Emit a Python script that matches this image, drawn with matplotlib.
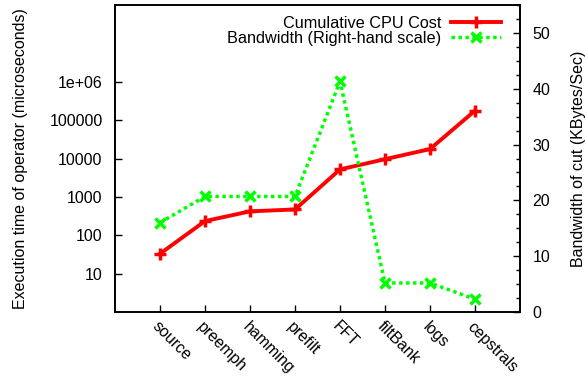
import numpy as np
import matplotlib
matplotlib.use("Agg")
import matplotlib.pyplot as plt
from matplotlib.ticker import FixedLocator, MultipleLocator, NullLocator

plt.rcParams['font.family'] = ['Liberation Sans', 'DejaVu Sans']

# operators along the pipeline
operators = ['source', 'preemph', 'hamming', 'prefilt', 'FFT', 'filtBank', 'logs', 'cepstrals']
# cumulative CPU cost (microseconds, log scale)
cpu_cost = [33, 234, 420, 470, 5200, 9600, 17600, 177000]
# bandwidth of the cut (KBytes/Sec)
bandwidth = [16.0, 20.7, 20.7, 20.7, 41.3, 5.2, 5.2, 2.3]

left_ticks = [10, 100, 1000, 10000, 100000, 1000000]
left_labels = ['10', '100', '1000', '10000', '100000', '1e+06']


def main():
    fig = plt.figure(figsize=(5.85, 3.77), dpi=100)
    ax = fig.add_axes([0.1966, 0.1724, 0.6923, 0.8143])
    ax2 = ax.twinx()

    x = np.arange(len(operators))

    l1, = ax.plot(x, cpu_cost, color='#ff0000', linewidth=2.8, marker='+',
                  markersize=8, markeredgewidth=2.5, label='Cumulative CPU Cost')
    l2, = ax2.plot(x, bandwidth, color='#00ff00', linewidth=2.5, linestyle=(0, (1, 1)),
                   marker='x', markersize=7, markeredgewidth=2.5,
                   label='Bandwidth (Right-hand scale)')

    ax.set_yscale('log')
    ax.set_ylim(1, 1e8)
    ax.yaxis.set_major_locator(FixedLocator(left_ticks))
    ax.set_yticklabels(left_labels)
    ax.yaxis.set_minor_locator(NullLocator())
    ax.set_xlim(-1, 8)
    ax.set_xticks(x)
    ax.set_xticklabels(operators, rotation=-45, ha='left', va='top', rotation_mode='anchor')

    ax2.set_ylim(0, 55)
    ax2.set_yticks([0, 10, 20, 30, 40, 50])
    ax2.yaxis.set_minor_locator(MultipleLocator(2.5))

    for a in (ax, ax2):
        a.tick_params(direction='in', labelsize=11.5, length=5, width=1, pad=9)
        a.tick_params(which='minor', direction='in', length=3, width=1)
        for s in a.spines.values():
            s.set_linewidth(1.2)
    ax.tick_params(axis='x', pad=5)

    ax.set_ylabel('Execution time of operator (microseconds)', fontsize=11.5, labelpad=15)
    ax2.set_ylabel('Bandwidth of cut (KBytes/Sec)', fontsize=11.5, labelpad=15)

    ax.legend([l1, l2], [l1.get_label(), l2.get_label()], loc='upper right',
              frameon=False, markerfirst=False, fontsize=11.7, handlelength=3.1,
              handletextpad=0.6, borderaxespad=0.25, labelspacing=0.0,
              bbox_to_anchor=(0.98, 1.0))

    fig.savefig('out.png', dpi=100)


if __name__ == "__main__":
    main()
